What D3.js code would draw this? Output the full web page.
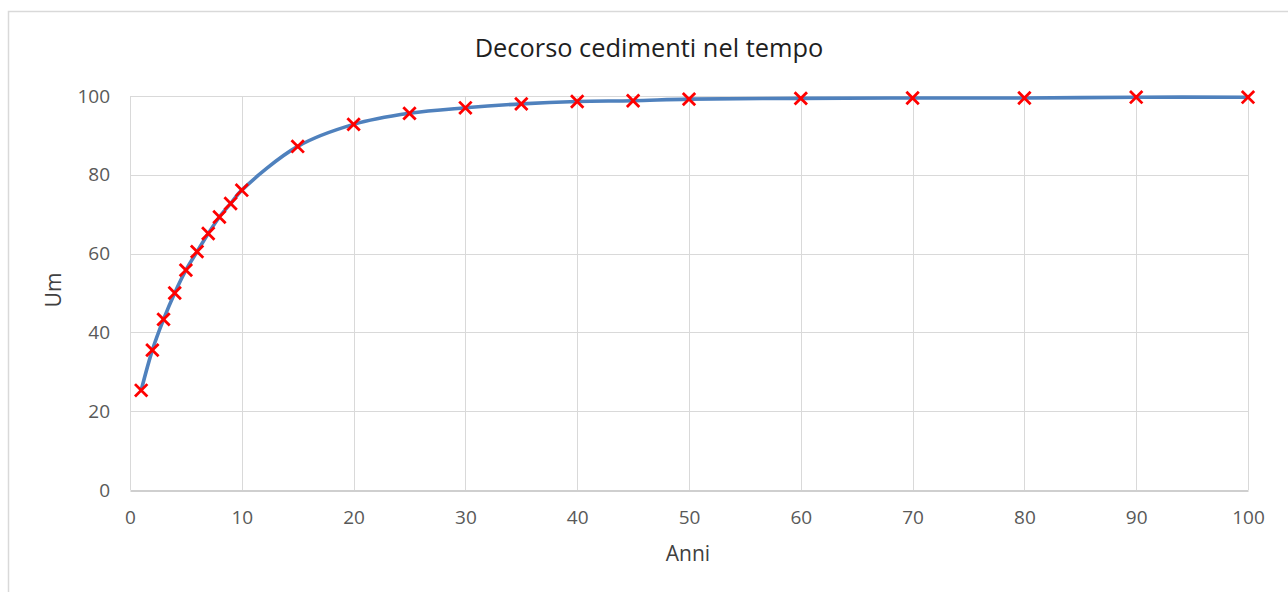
<!DOCTYPE html>
<html>
<head>
<meta charset="utf-8">
<script src="https://cdn.jsdelivr.net/npm/d3@7/dist/d3.min.js"></script>
<style>
  html, body { margin: 0; padding: 0; background: #fff; }
  svg { display: block; }
  text { font-family: "Open Sans", "Liberation Sans", sans-serif; }
</style>
</head>
<body>
<svg id="chart" width="1288" height="592"></svg>
<script>
// Settlement progress over time (years vs. %)
const anni = [1, 2, 3, 4, 5, 6, 7, 8, 9, 10, 15, 20, 25, 30, 35, 40, 45, 50, 60, 70, 80, 90, 100];
const um   = [25.3, 35.5, 43.3, 50.0, 55.8, 60.5, 65.1, 69.3, 72.7, 76.1, 87.2, 92.8, 95.6, 97.0, 98.0, 98.6, 98.8, 99.2, 99.4, 99.5, 99.5, 99.7, 99.7];
const xTicks = [0, 10, 20, 30, 40, 50, 60, 70, 80, 90, 100];
const yTicks = [0, 20, 40, 60, 80, 100];

const titolo = "Decorso cedimenti nel tempo";
const xTitolo = "Anni";
const yTitolo = "Um";

const svg = d3.select("#chart");
const W = 1288, H = 592;
const plot = { left: 130, right: 1248, top: 96, bottom: 490 };

// Chart frame
svg.append("rect")
  .attr("x", 8.5).attr("y", 11.5)
  .attr("width", W + 10).attr("height", H + 10)
  .attr("fill", "#fff").attr("stroke", "#d9d9d9").attr("stroke-width", 1.5);

const x = d3.scaleLinear().domain([0, 100]).range([plot.left, plot.right]);
const y = d3.scaleLinear().domain([0, 100]).range([plot.bottom, plot.top]);

// Gridlines
const grid = svg.append("g");
grid.selectAll("line.h").data(yTicks.filter(d => d > 0)).join("line")
  .attr("x1", plot.left).attr("x2", plot.right)
  .attr("y1", d => Math.round(y(d)) + 0.5).attr("y2", d => Math.round(y(d)) + 0.5)
  .attr("stroke", "#d9d9d9").attr("stroke-width", 1);
grid.selectAll("line.v").data(xTicks).join("line")
  .attr("y1", plot.top).attr("y2", plot.bottom)
  .attr("x1", d => Math.round(x(d)) + 0.5).attr("x2", d => Math.round(x(d)) + 0.5)
  .attr("stroke", "#d9d9d9").attr("stroke-width", 1);

// X axis
const xAxis = svg.append("g")
  .attr("transform", `translate(0,${Math.round(y(0)) + 0.5})`)
  .call(d3.axisBottom(x).tickValues(xTicks).tickSize(0).tickPadding(20));
xAxis.select(".domain").attr("stroke", "#bfbfbf").attr("stroke-width", 1.5);
xAxis.selectAll("text").attr("font-size", 19).attr("fill", "#595959")
  .attr("font-family", "'Open Sans', sans-serif");

// Y axis
const yAxis = svg.append("g")
  .attr("transform", `translate(${plot.left},0)`)
  .call(d3.axisLeft(y).tickValues(yTicks).tickSize(0).tickPadding(20));
yAxis.select(".domain").remove();
yAxis.selectAll("text").attr("font-size", 19).attr("fill", "#595959")
  .attr("font-family", "'Open Sans', sans-serif");

// Smoothed line
const line = d3.line()
  .x((d, i) => x(anni[i]))
  .y(d => y(d))
  .curve(d3.curveCatmullRom.alpha(0.5));
svg.append("path")
  .datum(um)
  .attr("d", line)
  .attr("fill", "none")
  .attr("stroke", "#4f81bd")
  .attr("stroke-width", 3.6)
  .attr("stroke-linecap", "round");

// X markers
const s = 6.2;
const marks = svg.append("g");
anni.forEach((a, i) => {
  const cx = x(a), cy = y(um[i]);
  marks.append("path")
    .attr("d", `M${cx - s},${cy - s}L${cx + s},${cy + s}M${cx - s},${cy + s}L${cx + s},${cy - s}`)
    .attr("stroke", "#ff0000").attr("stroke-width", 2.8).attr("fill", "none");
});

// Titles
svg.append("text")
  .attr("x", 649).attr("y", 57)
  .attr("text-anchor", "middle")
  .attr("font-size", 25.4).attr("fill", "#1f1f1f")
  .text(titolo);

svg.append("text")
  .attr("x", 688).attr("y", 561)
  .attr("text-anchor", "middle")
  .attr("font-size", 21).attr("fill", "#404040")
  .text(xTitolo);

svg.append("text")
  .attr("transform", "translate(61,290) rotate(-90)")
  .attr("text-anchor", "middle")
  .attr("font-size", 21).attr("fill", "#404040")
  .text(yTitolo);
</script>
</body>
</html>
